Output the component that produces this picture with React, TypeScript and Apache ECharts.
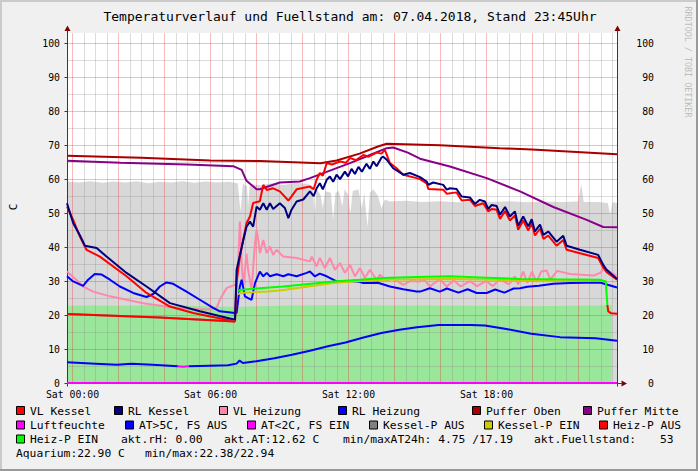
import React, { useEffect, useRef } from "react";
import * as echarts from "echarts";

// ---------- axes ----------
const X_MIN = -0.23; // hours relative to Sat 00:00
const X_MAX = 23.7;
const Y_MIN = 0;
const Y_MAX = 103;

const timeTickHours = [0, 6, 12, 18];
const timeTickLabels = ["Sat 00:00", "Sat 06:00", "Sat 12:00", "Sat 18:00"];
const majorHourLines = [0, 2, 4, 6, 8, 10, 12, 14, 16, 18, 20, 22];
const minorHourLines = [0.5, 1, 1.5, 2.5, 3, 3.5, 4.5, 5, 5.5, 6.5, 7, 7.5, 8.5, 9, 9.5, 10.5, 11, 11.5, 12.5, 13, 13.5, 14.5, 15, 15.5, 16.5, 17, 17.5, 18.5, 19, 19.5, 20.5, 21, 21.5, 22.5, 23, 23.5];
const majorValueLines = [10, 20, 30, 40, 50, 60, 70, 80, 90, 100];
const minorValueLines = [5, 15, 25, 35, 45, 55, 65, 75, 85, 95];

// ---------- data: [hour, value] ----------
const fuellstand = [
  [-0.23, 59.3], [0.3, 59.0], [0.8, 59.4], [1.3, 58.9], [1.8, 59.3], [2.3, 59.0], [2.8, 59.4], [3.3, 58.8], [3.8, 59.2],
  [4.3, 59.0], [4.8, 59.4], [5.3, 58.9], [5.8, 59.3], [6.3, 59.0], [6.8, 59.2], [7.2, 58.8], [7.32, 50.5], [7.42, 58.6],
  [7.6, 58.0], [7.65, 52.0], [7.72, 58.5], [8.2, 58.2], [8.7, 58.8], [9.2, 58.3], [9.7, 58.9], [10.2, 58.6], [10.45, 58.0],
  [10.55, 49.0], [10.62, 57.0], [10.8, 55.5], [10.9, 51.5], [11.0, 56.5], [11.25, 56.0], [11.35, 48.0], [11.45, 56.0],
  [11.6, 56.5], [11.75, 52.0], [11.85, 57.0], [12.0, 55.5], [12.1, 50.0], [12.2, 56.5], [12.45, 57.0], [12.6, 51.5],
  [12.7, 56.0], [12.85, 46.0], [12.95, 56.0], [13.1, 57.0], [13.3, 55.0], [13.45, 51.5], [13.6, 54.0], [13.8, 53.4],
  [14.5, 53.6], [15.2, 53.3], [16.0, 53.5], [16.8, 53.2], [17.5, 53.5], [18.3, 53.3], [19.0, 53.5], [19.8, 53.2],
  [20.5, 53.4], [21.3, 53.3], [22.0, 53.4], [22.15, 58.5], [22.25, 53.3], [22.9, 53.3], [23.3, 53.0], [23.4, 49.5],
  [23.5, 53.2], [23.7, 53.0],
];

const aquarium = [
  [-0.23, 22.7], [1.0, 22.8], [2.0, 22.7], [3.5, 22.9], [5.0, 22.7], [6.5, 22.5], [7.2, 22.4], [8.0, 22.6], [9.5, 22.8],
  [11.0, 22.9], [12.5, 22.9], [14.0, 22.8], [15.5, 22.8], [17.0, 22.7], [18.5, 22.7], [20.0, 22.6], [21.5, 22.7],
  [23.0, 22.8], [23.47, 22.9],
];

const pufferOben = [
  [-0.23, 66.9], [3.0, 66.3], [6.0, 65.5], [8.16, 65.3], [10.8, 64.7], [11.5, 65.5], [12.5, 67.5], [13.3, 69.6],
  [13.68, 70.4], [16.0, 70.0], [18.6, 69.1], [20.0, 68.7], [23.7, 67.3],
];

const pufferMitte = [
  [-0.23, 65.4], [2.1, 64.8], [5.0, 64.3], [7.0, 63.8], [7.37, 62.7], [7.58, 59.5], [8.02, 57.0], [8.16, 57.0],
  [9.03, 59.0], [9.9, 59.3], [10.34, 60.3], [11.21, 62.5], [12.08, 64.7], [12.95, 67.1], [13.68, 69.1], [13.96, 69.3],
  [14.6, 67.8], [15.13, 66.0], [16.43, 63.7], [18.03, 60.3], [19.48, 56.4], [20.93, 51.8], [22.38, 48.0], [23.1, 45.9],
  [23.7, 45.8],
];

const vlKessel = [
  [-0.23, 51.9], [0.04, 48.0], [0.33, 43.1], [0.62, 39.2], [1.2, 37.2], [2.36, 31.4], [3.23, 26.5], [4.25, 22.5],
  [5.26, 20.6], [7.08, 18.1], [7.15, 30.0], [7.29, 37.0], [7.58, 47.0], [7.73, 49.0], [7.87, 53.0], [8.16, 53.5],
  [8.31, 58.3], [8.46, 56.8], [8.74, 57.3], [9.03, 56.4], [9.4, 53.7], [9.54, 54.9], [9.76, 57.0], [10.34, 57.8],
  [10.5, 57.0], [10.63, 59.8], [10.77, 61.8], [10.9, 61.0], [11.07, 64.7], [11.3, 64.3], [11.65, 65.2], [11.9, 64.8],
  [12.08, 66.2], [12.35, 65.6], [12.66, 67.1], [12.9, 66.6], [13.24, 67.8], [13.45, 67.5], [13.6, 68.6], [13.82, 64.7],
  [14.11, 63.2], [14.4, 61.3], [14.98, 60.3], [15.13, 60.0], [15.42, 58.7], [15.49, 57.1], [16.14, 56.9], [16.29, 55.7],
  [16.72, 56.1], [16.94, 53.7], [17.3, 53.9], [17.52, 52.1], [17.88, 52.9], [18.1, 50.5], [18.25, 51.2], [18.46, 51.0],
  [18.61, 48.3], [18.83, 50.6], [19.04, 47.8], [19.26, 49.3], [19.4, 45.1], [19.62, 47.8], [19.84, 44.9], [19.99, 47.0],
  [20.13, 43.4], [20.35, 45.4], [20.5, 42.4], [20.71, 43.4], [21.07, 40.4], [21.36, 42.1], [21.51, 39.2], [22.09, 38.2],
  [22.88, 36.8], [23.1, 34.0], [23.25, 32.6], [23.7, 30.4],
];

const rlKessel = [
  [-0.23, 52.9], [0.04, 47.0], [0.33, 43.5], [0.55, 40.4], [1.06, 39.7], [1.49, 37.2], [2.36, 32.4], [3.23, 28.4],
  [4.25, 23.5], [5.55, 21.1], [7.08, 18.6], [7.15, 33.3], [7.44, 42.1], [7.58, 46.0], [7.73, 47.5], [7.87, 46.0],
  [8.02, 51.9], [8.16, 51.0], [8.31, 52.9], [8.46, 51.0], [8.6, 52.9], [8.74, 51.2], [9.03, 52.9], [9.25, 51.5],
  [9.4, 48.5], [9.54, 51.0], [9.76, 53.4], [10.05, 54.0], [10.34, 56.4], [10.5, 55.0], [10.63, 57.3], [10.77, 58.8],
  [10.9, 57.0], [11.07, 59.8], [11.21, 60.8], [11.35, 59.2], [11.5, 61.3], [11.65, 60.0], [11.86, 62.2], [12.0, 60.8],
  [12.15, 63.0], [12.3, 61.5], [12.45, 63.6], [12.6, 62.2], [12.8, 64.5], [12.95, 63.0], [13.1, 65.2], [13.24, 63.8],
  [13.45, 66.3], [13.53, 66.6], [13.68, 65.7], [13.96, 63.2], [14.4, 61.3], [14.69, 61.8], [15.13, 60.6], [15.42, 59.3],
  [15.49, 58.3], [15.7, 59.0], [16.14, 58.3], [16.29, 56.9], [16.43, 57.3], [16.72, 57.1], [16.94, 54.9], [17.3, 54.6],
  [17.52, 52.7], [17.73, 53.9], [17.95, 53.4], [18.1, 51.2], [18.25, 52.4], [18.46, 52.1], [18.61, 49.5], [18.83, 51.8],
  [19.04, 49.0], [19.26, 50.5], [19.4, 46.3], [19.62, 49.0], [19.84, 46.1], [19.99, 48.2], [20.13, 44.6], [20.35, 46.6],
  [20.5, 43.6], [20.71, 44.6], [21.07, 41.6], [21.36, 43.3], [21.51, 40.4], [22.09, 39.2], [22.88, 37.7], [23.1, 34.8],
  [23.25, 33.3], [23.7, 30.6],
];

const vlHeizung = [
  [-0.23, 32.8], [0.33, 29.4], [0.47, 28.4], [0.91, 26.9], [1.64, 25.5], [3.09, 23.5], [4.54, 22.1], [5.84, 21.6],
  [6.28, 22.1], [6.42, 24.5], [6.71, 27.9], [7.08, 28.9], [7.15, 28.4], [7.22, 35.3], [7.29, 47.5], [7.37, 35.3],
  [7.44, 28.4], [7.58, 38.0], [7.65, 33.3], [7.8, 27.4], [7.95, 41.2], [8.02, 45.1], [8.09, 42.1], [8.16, 38.2],
  [8.31, 42.1], [8.46, 38.2], [8.6, 40.2], [8.74, 37.7], [8.89, 39.2], [9.18, 37.2], [9.76, 36.8], [10.34, 35.8],
  [10.42, 37.2], [10.63, 34.3], [10.77, 36.8], [10.99, 33.8], [11.21, 36.8], [11.43, 33.3], [11.65, 35.3], [11.86, 32.4],
  [12.08, 34.8], [12.3, 31.4], [12.52, 33.8], [12.73, 30.9], [12.95, 33.3], [13.24, 30.4], [13.39, 31.9], [13.68, 29.9],
  [13.9, 31.0], [14.4, 28.9], [14.7, 30.0], [15.13, 29.9], [15.3, 30.5], [15.56, 28.4], [15.99, 30.6], [16.29, 28.4],
  [16.6, 30.2], [16.9, 28.4], [17.3, 30.0], [17.6, 28.5], [18.0, 30.0], [18.3, 28.5], [18.6, 30.5], [19.0, 29.0],
  [19.26, 31.4], [19.4, 29.0], [19.62, 32.8], [19.8, 29.5], [20.0, 32.8], [20.2, 29.8], [20.4, 32.8], [20.64, 33.1],
  [20.8, 30.5], [21.1, 33.0], [21.65, 32.1], [22.67, 31.6], [23.0, 32.5], [23.1, 33.8], [23.39, 32.8], [23.7, 31.4],
];

const rlHeizung = [
  [-0.23, 31.4], [0.04, 29.9], [0.47, 28.6], [0.69, 30.4], [0.98, 32.1], [1.28, 31.9], [1.64, 30.4], [2.07, 28.4],
  [2.65, 26.5], [3.23, 25.3], [3.52, 26.2], [3.81, 28.4], [4.1, 29.6], [4.39, 29.2], [4.97, 26.9], [5.55, 24.5],
  [6.13, 22.1], [6.42, 21.1], [7.08, 20.6], [7.15, 20.6], [7.29, 28.4], [7.37, 30.4], [7.51, 25.5], [7.65, 25.0],
  [7.8, 24.5], [7.95, 29.4], [8.16, 32.8], [8.31, 31.4], [8.46, 32.4], [8.6, 31.4], [8.89, 32.0], [9.18, 31.4],
  [9.4, 32.0], [9.76, 31.4], [10.2, 32.4], [10.34, 32.8], [10.55, 31.4], [10.77, 32.2], [11.07, 31.4], [11.5, 29.9],
  [12.0, 30.0], [12.5, 29.8], [12.66, 29.4], [13.3, 29.5], [13.82, 28.4], [14.4, 27.6], [14.98, 26.9], [15.13, 26.9],
  [15.56, 27.9], [15.99, 26.9], [16.3, 27.8], [16.8, 26.6], [17.2, 27.6], [17.6, 26.5], [18.03, 26.5], [18.4, 27.5],
  [18.8, 26.6], [19.2, 27.8], [19.48, 27.9], [19.8, 28.3], [20.3, 28.6], [20.93, 29.2], [21.65, 29.4], [22.96, 29.6],
  [23.7, 28.1],
];

const luftfeuchte = [[-0.23, 0], [23.7, 0]];

const atWarm = [
  [-0.23, 6.1], [1.01, 5.7], [1.95, 5.4], [2.57, 5.7], [3.5, 5.4], [4.59, 4.9], [4.6, null], [5.05, null], [5.06, 4.9],
  [5.99, 5.1], [6.77, 5.2], [7.15, 5.7], [7.28, 6.6], [7.42, 5.9], [8.01, 6.4], [8.79, 7.3], [9.56, 8.3], [10.34, 9.5],
  [11.12, 10.8], [11.89, 11.9], [12.67, 13.4], [13.45, 14.7], [14.23, 15.7], [15.0, 16.4], [15.94, 17.1], [17.33, 17.1],
  [17.95, 16.9], [18.89, 15.9], [19.97, 14.5], [21.22, 13.5], [22.77, 13.2], [23.7, 12.4],
];
const atCold = [[4.59, 4.9], [4.8, 4.8], [5.06, 4.9]];

const kesselPAus = [[-0.23, 20.3], [3.81, 19.3], [7.08, 18.1]];
const kesselPEin = [
  [7.22, 26.0], [7.29, 26.5], [8.0, 26.8], [8.5, 26.9], [9.18, 27.4], [10.5, 28.6], [11.36, 29.4], [12.5, 30.0],
  [13.53, 30.4], [16.43, 30.6], [19.48, 30.3], [22.96, 30.1], [23.21, 29.9],
];
const heizPAus = [
  [-0.23, 20.3], [3.81, 19.3], [7.08, 18.1], [7.1, null], [23.27, null], [23.28, 23.0], [23.32, 21.1], [23.45, 20.5],
  [23.7, 20.4],
];
const heizPEin = [
  [7.22, 26.9], [7.29, 27.4], [8.0, 27.8], [9.18, 28.4], [10.5, 29.3], [11.36, 29.9], [12.5, 30.4], [13.53, 30.9],
  [15.0, 31.2], [16.43, 31.4], [18.0, 31.0], [19.48, 30.6], [21.0, 30.5], [22.96, 30.4], [23.21, 29.9], [23.28, 23.0],
];

// ---------- texts ----------
const titleText = "Temperaturverlauf und Fuellstand am: 07.04.2018, Stand 23:45Uhr";
const yAxisTitle = "C";
const creditText = "RRDTOOL / TOBI OETIKER";
const legendNames = [
  "VL Kessel", "RL Kessel", "VL Heizung", "RL Heizung", "Puffer Oben", "Puffer Mitte",
  "Luftfeuchte", "AT>5C, FS AUS", "AT<2C, FS EIN", "Kessel-P AUS", "Kessel-P EIN", "Heiz-P AUS",
  "Heiz-P EIN",
];
const infoTexts = [
  "akt.rH: 0.00", "akt.AT:12.62 C", "min/maxAT24h: 4.75 /17.19", "akt.Fuellstand:", "53",
  "Aquarium:22.90 C", "min/max:22.38/22.94",
];

// ---------- styles / layout ----------
const FONT = '"DejaVu Sans Mono", monospace';
const COLORS: Record<string, string> = {
  "VL Kessel": "#FF0000",
  "RL Kessel": "#000080",
  "VL Heizung": "#FF88AA",
  "RL Heizung": "#0000FF",
  "Puffer Oben": "#A80000",
  "Puffer Mitte": "#880088",
  "Luftfeuchte": "#FF00FF",
  "AT>5C, FS AUS": "#0000FF",
  "AT<2C, FS EIN": "#FF00FF",
  "Kessel-P AUS": "#808080",
  "Kessel-P EIN": "#CCCC00",
  "Heiz-P AUS": "#FF0000",
  "Heiz-P EIN": "#00FF00",
};
const legendSwatchPos = [
  [16, 411], [114, 411], [219, 411], [338, 411], [472, 411], [583, 411],
  [16, 425.5], [125, 425.5], [247, 425.5], [369, 425.5], [484, 425.5], [599, 425.5],
  [16, 439.5],
];
const infoPos = [
  [121, 439.5], [224, 439.5], [343, 439.5], [534, 439.5], [660, 439.5],
  [16, 453.7], [145, 453.7],
];

function lineSeries(name: string, data: any[], z = 3, width = 2) {
  const color = COLORS[name];
  return {
    type: "line",
    name,
    data,
    symbol: "none",
    showSymbol: false,
    connectNulls: false,
    clip: false,
    silent: true,
    z,
    lineStyle: { color, width },
    itemStyle: { color },
    emphasis: { disabled: true },
  };
}

function areaSeries(name: string, data: any[], color: string) {
  return {
    type: "line",
    name,
    data,
    symbol: "none",
    showSymbol: false,
    silent: true,
    z: 1,
    lineStyle: { width: 0, opacity: 0 },
    areaStyle: { color, opacity: 1 },
    emphasis: { disabled: true },
  };
}

function gridRender(_params: any, api: any) {
  const px = (h: number) => Math.round(api.coord([h, 0])[0]) + 0.5;
  const py = (v: number) => Math.round(api.coord([X_MIN, v])[1]) + 0.5;
  const xL = px(X_MIN);
  const xR = px(X_MAX);
  const yT = Math.round(api.coord([X_MIN, Y_MAX])[1]);
  const yB = py(Y_MIN);
  const minorC = "rgba(140,140,140,0.30)";
  const majorC = "rgba(232,50,50,0.33)";
  const axisC = "#3A3A3A";
  const arrowC = "#7F0000";
  const children: any[] = [];
  const vline = (x: number, c: string) =>
    children.push({ type: "line", shape: { x1: x, y1: yT, x2: x, y2: yB - 0.5 }, style: { stroke: c, lineWidth: 1 } });
  const hline = (y: number, c: string) =>
    children.push({ type: "line", shape: { x1: xL, y1: y, x2: xR, y2: y }, style: { stroke: c, lineWidth: 1 } });
  minorHourLines.forEach((h) => vline(px(h), minorC));
  minorValueLines.forEach((v) => hline(py(v), minorC));
  majorHourLines.forEach((h) => vline(px(h), majorC));
  majorValueLines.forEach((v) => hline(py(v), majorC));
  // axes
  children.push({ type: "line", shape: { x1: xL, y1: yB + 3, x2: xL, y2: yT - 3 }, style: { stroke: axisC, lineWidth: 1 } });
  children.push({ type: "line", shape: { x1: xR, y1: yB + 3, x2: xR, y2: yT - 3 }, style: { stroke: axisC, lineWidth: 1 } });
  children.push({ type: "line", shape: { x1: xL - 3, y1: yB, x2: xR + 4, y2: yB }, style: { stroke: axisC, lineWidth: 1 } });
  majorValueLines.forEach((v) =>
    children.push({ type: "line", shape: { x1: xL - 3, y1: py(v), x2: xL, y2: py(v) }, style: { stroke: axisC, lineWidth: 1 } })
  );
  [xL, xR].forEach((x) =>
    children.push({
      type: "polygon",
      shape: { points: [[x - 3, yT - 2], [x + 3, yT - 2], [x, yT - 7.5]] },
      style: { fill: arrowC },
    })
  );
  children.push({
    type: "polygon",
    shape: { points: [[xR + 4, yB - 3], [xR + 4, yB + 3], [xR + 9.5, yB]] },
    style: { fill: arrowC },
  });
  // time labels
  timeTickHours.forEach((h, i) =>
    children.push({
      type: "text",
      x: px(h),
      y: yB + 10.5,
      style: {
        text: timeTickLabels[i],
        fill: "#000",
        font: `9.8px ${FONT}`,
        align: "center",
        textAlign: "center",
        verticalAlign: "middle",
        textVerticalAlign: "middle",
      },
    })
  );
  return { type: "group", children };
}

function buildOption() {
  const txt = (text: string, x: number, y: number, size: number, extra: any = {}) => ({
    type: "text",
    x,
    y,
    z: 10,
    silent: true,
    style: {
      text,
      fill: "#000",
      font: `${size}px ${FONT}`,
      align: "left",
      textAlign: "left",
      verticalAlign: "middle",
      textVerticalAlign: "middle",
      ...extra,
    },
  });

  const graphics: any[] = [
    { type: "rect", shape: { x: 0, y: 0, width: 698, height: 2 }, style: { fill: "#CBCBCB" }, z: 10, silent: true },
    { type: "rect", shape: { x: 0, y: 0, width: 2, height: 471 }, style: { fill: "#CBCBCB" }, z: 10, silent: true },
    { type: "rect", shape: { x: 696, y: 0, width: 2, height: 471 }, style: { fill: "#999999" }, z: 10, silent: true },
    { type: "rect", shape: { x: 0, y: 469, width: 698, height: 2 }, style: { fill: "#999999" }, z: 10, silent: true },
    txt(titleText, 350, 16, 13, { align: "center", textAlign: "center" }),
    {
      ...txt(yAxisTitle, 13, 207, 11, { align: "center", textAlign: "center" }),
      rotation: Math.PI / 2,
    },
    {
      ...txt(creditText, 688, 62, 8.4, { align: "center", textAlign: "center", fill: "#BDBDBD" }),
      rotation: -Math.PI / 2,
    },
  ];
  legendNames.forEach((name, i) => {
    const [sx, sy] = legendSwatchPos[i];
    graphics.push({
      type: "rect",
      z: 10,
      silent: true,
      shape: { x: sx + 0.5, y: sy - 4.5, width: 8, height: 8 },
      style: { fill: COLORS[name], stroke: "#000", lineWidth: 1 },
    });
    graphics.push(txt(name, sx + 14, sy, 11.3));
  });
  infoTexts.forEach((t, i) => {
    const [x, y] = infoPos[i];
    graphics.push(txt(t, x, y, 11.3));
  });

  const yLabel = (v: number) => (v % 10 === 0 && v <= 100 ? String(v) : "");

  return {
    animation: false,
    backgroundColor: "#F0F0F0",
    textStyle: { fontFamily: FONT },
    grid: {
      left: 67,
      right: 81,
      top: 33,
      bottom: 88,
      show: true,
      backgroundColor: "#FFFFFF",
      borderWidth: 0,
      containLabel: false,
      outerBoundsMode: "none",
    },
    xAxis: { type: "value", min: X_MIN, max: X_MAX, show: false },
    yAxis: [
      {
        type: "value",
        min: Y_MIN,
        max: Y_MAX,
        interval: 10,
        axisLine: { show: false },
        axisTick: { show: false },
        splitLine: { show: false },
        axisLabel: { color: "#000", fontFamily: FONT, fontSize: 9.8, margin: 7, formatter: yLabel },
      },
      {
        type: "value",
        position: "right",
        min: Y_MIN,
        max: Y_MAX,
        interval: 10,
        axisLine: { show: false },
        axisTick: { show: false },
        splitLine: { show: false },
        axisLabel: { color: "#000", fontFamily: FONT, fontSize: 9.8, margin: 37, align: "right", formatter: yLabel },
      },
    ],
    graphic: graphics,
    series: [
      areaSeries("Fuellstand", fuellstand, "#D8D8D8"),
      areaSeries("Aquarium", aquarium, "#9AE69A"),
      { type: "custom", name: "grid", silent: true, clip: false, z: 2, data: [[0, 0]], renderItem: gridRender },
      lineSeries("Puffer Oben", pufferOben),
      lineSeries("Puffer Mitte", pufferMitte),
      lineSeries("AT>5C, FS AUS", atWarm),
      lineSeries("AT<2C, FS EIN", atCold),
      lineSeries("VL Heizung", vlHeizung),
      lineSeries("RL Heizung", rlHeizung),
      lineSeries("VL Kessel", vlKessel),
      lineSeries("RL Kessel", rlKessel),
      lineSeries("Kessel-P AUS", kesselPAus),
      lineSeries("Kessel-P EIN", kesselPEin),
      lineSeries("Heiz-P AUS", heizPAus),
      lineSeries("Heiz-P EIN", heizPEin),
      lineSeries("Luftfeuchte", luftfeuchte, 4),
    ],
  };
}

export default function App() {
  const ref = useRef<HTMLDivElement>(null);
  useEffect(() => {
    const el = ref.current;
    if (!el) return;
    const chart = echarts.init(el, null, { renderer: "svg" });
    chart.setOption(buildOption() as any);
    return () => chart.dispose();
  }, []);
  return <div ref={ref} style={{ position: "fixed", left: 0, top: 0, width: 698, height: 471 }} />;
}
